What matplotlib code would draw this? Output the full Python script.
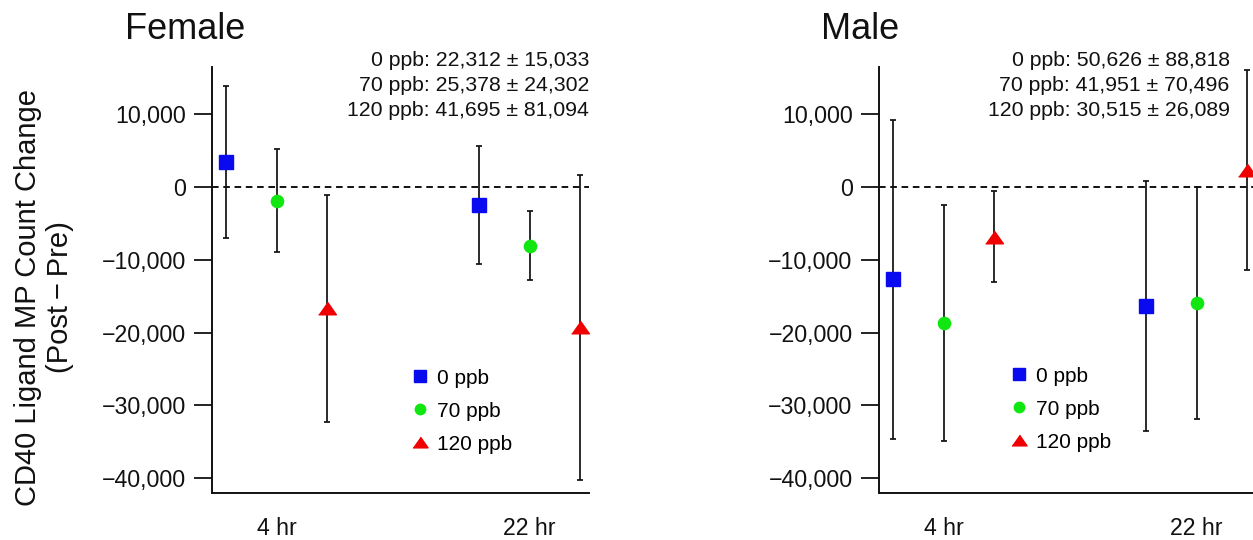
from matplotlib import pyplot as plt

plt.rcParams['font.family'] = ['Liberation Sans', 'DejaVu Sans']

categories = ['4 hr', '22 hr']
doses = ['0 ppb', '70 ppb', '120 ppb']

female_mean = [[3400, -2550], [-1900, -8100], [-16700, -19300]]
female_err = [[10400, 8100], [7100, 4750], [15600, 20900]]
female_stats = ['0 ppb: 22,312 \u00b1 15,033',
                '70 ppb: 25,378 \u00b1 24,302',
                '120 ppb: 41,695 \u00b1 81,094']

male_mean = [[-12700, -16350], [-18700, -15900], [-6850, 2280]]
male_err = [[21900, 17100], [16200, 15900], [6250, 13700]]
male_stats = ['0 ppb: 50,626 \u00b1 88,818',
              '70 ppb: 41,951 \u00b1 70,496',
              '120 ppb: 30,515 \u00b1 26,089']

colors = ['#0a0af0', '#10e610', '#f00000']
markers = ['s', 'o', [(-1, -0.71), (1, -0.71), (0, 0.71)]]
msizes = [9.6, 8.8, 12.8]
offsets = [-0.2, 0.0, 0.2]
yticks = [10000, 0, -10000, -20000, -30000, -40000]


def draw_panel(ax, mean, err, stats, title, title_x, stats_x, legend_x, legend_y):
    ax.axhline(0, color='#111111', lw=1.4, ls=(0, (3.4, 2.4)), zorder=1)
    for i in range(len(doses)):
        xs = [c + offsets[i] for c in range(len(categories))]
        ax.errorbar(xs, mean[i], yerr=err[i], fmt='none', ecolor='#111111',
                    elinewidth=1.25, capsize=2.4, capthick=1.25, zorder=2)
        ax.plot(xs, mean[i], ls='none', marker=markers[i], ms=msizes[i],
                color=colors[i], mec=colors[i], label=doses[i], zorder=3,
                clip_on=False)

    ax.set_xlim(-0.255, 1.235)
    ax.set_ylim(-42000, 16400)
    ax.set_xticks(range(len(categories)))
    ax.set_xticklabels(categories)
    ax.set_yticks(yticks)
    ax.set_yticklabels([f'{v:,}'.replace('-', '\u2212') for v in yticks])
    ax.tick_params(axis='x', length=0, pad=17, labelsize=16.7, colors='#111111')
    ax.tick_params(axis='y', length=13, width=1.3, pad=6, labelsize=16.7,
                   direction='out', colors='#111111')
    for side in ['top', 'right']:
        ax.spines[side].set_visible(False)
    for side in ['left', 'bottom']:
        ax.spines[side].set_linewidth(1.4)
        ax.spines[side].set_color('#111111')

    ax.text(title_x, 1.0667, title, transform=ax.transAxes, fontsize=26,
            ha='left', va='baseline', color='#111111')
    for k, line in enumerate(stats):
        ax.text(stats_x, 1.0023 - k * 0.0587, line, transform=ax.transAxes,
                fontsize=15.3, ha='right', va='baseline', color='#111111')

    ax.legend(loc='center left', bbox_to_anchor=(legend_x, legend_y),
              frameon=False, fontsize=15, borderpad=0, borderaxespad=0,
              handlelength=1.0, handletextpad=0.3, labelspacing=0.67,
              numpoints=1, markerscale=0.85)


fig = plt.figure(figsize=(12.53, 5.4), dpi=100)
ax1 = fig.add_axes([0.1692, 0.0870, 0.3009, 0.7889])
ax2 = fig.add_axes([0.7015, 0.0870, 0.3009, 0.7889])

draw_panel(ax1, female_mean, female_err, female_stats, 'Female',
           -0.232, 1.0, 0.524, 0.192)
draw_panel(ax2, male_mean, male_err, male_stats, 'Male',
           -0.155, 0.930, 0.344, 0.197)

ax1.set_ylabel('CD40 Ligand MP Count Change\n(Post\u2009\u2212\u2009Pre)',
               fontsize=21, ha='center', va='center', color='#111111',
               linespacing=1.15)
ax1.yaxis.set_label_coords(-0.446, 0.46)

fig.savefig('out.png', dpi=100)
